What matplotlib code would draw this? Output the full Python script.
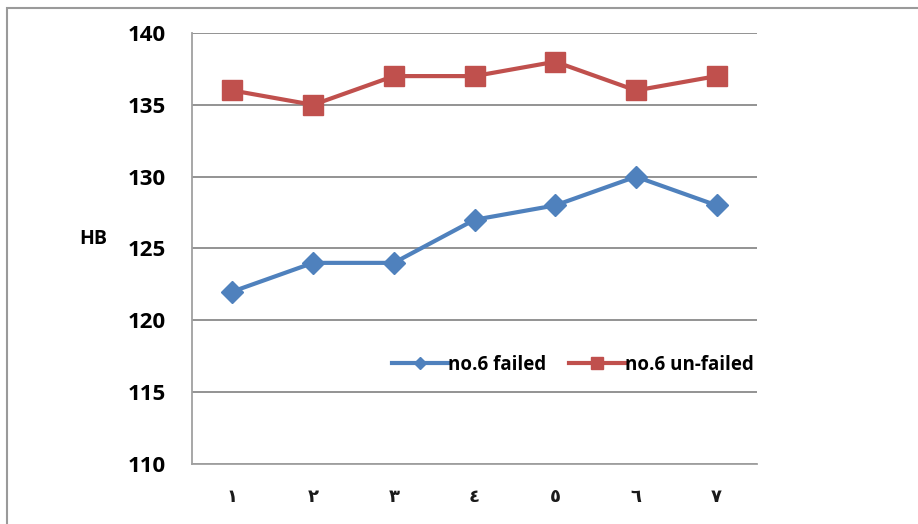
import matplotlib
matplotlib.use("Agg")
import matplotlib.pyplot as plt
from matplotlib.lines import Line2D
from matplotlib.patches import Rectangle

categories = ["١", "٢", "٣", "٤", "٥", "٦", "٧"]
failed = [122, 124, 124, 127, 128, 130, 128]
unfailed = [136, 135, 137, 137, 138, 136, 137]
yticks = [110, 115, 120, 125, 130, 135, 140]
label_failed = "no.6 failed"
label_unfailed = "no.6 un-failed"

W, H = 918, 524
fig = plt.figure(figsize=(W / 100, H / 100), dpi=100)
fig.patch.set_facecolor("white")

# outer chart frame
fig.add_artist(Rectangle((7 / W, -0.1), 1.2, 1 - 8 / H + 0.1, transform=fig.transFigure,
                         fill=False, edgecolor="#9a9a9a", linewidth=1.5))

left, right, top, bottom = 192, 757, 33, 464
ax = fig.add_axes([left / W, 1 - bottom / H, (right - left) / W, (bottom - top) / H])

x = list(range(1, len(categories) + 1))
blue = "#4F81BD"
red = "#C0504D"
ax.plot(x, failed, color=blue, linewidth=3.0, marker="D", markersize=11, zorder=3)
ax.plot(x, unfailed, color=red, linewidth=3.0, marker="s", markersize=14, zorder=3)

fam = ["Open Sans", "DejaVu Sans"]
ax.set_xlim(0.5, len(categories) + 0.5)
ax.set_ylim(110, 140)
ax.set_yticks(yticks)
ax.set_xticks(x)
ax.set_xticklabels(categories, fontfamily=["DejaVu Sans"], fontweight="bold", fontsize=13,
                   color="#1a1a1a")
ax.set_yticklabels([str(v) for v in yticks], fontfamily=fam, fontweight="bold", fontsize=16)
ax.tick_params(axis="both", length=0)
ax.tick_params(axis="x", pad=17)
ax.tick_params(axis="y", pad=19)

ax.grid(axis="y", color="#8a8a8a", linewidth=1.3)
ax.set_axisbelow(True)
for s in ["top", "right"]:
    ax.spines[s].set_visible(False)
for s in ["left", "bottom"]:
    ax.spines[s].set_color("#a0a0a0")
    ax.spines[s].set_linewidth(1.3)

ax.set_ylabel("HB", rotation=0, fontfamily=fam, fontweight="bold", fontsize=14, labelpad=0)
ax.yaxis.set_label_coords((93 - left) / (right - left), (bottom - 249) / (bottom - top))

handles = [
    Line2D([], [], color=blue, linewidth=3.0, marker="D", markersize=6),
    Line2D([], [], color=red, linewidth=3.0, marker="s", markersize=8),
]
leg = ax.legend(handles, [label_failed, label_unfailed], loc="center",
                bbox_to_anchor=((573 - left) / (right - left), (bottom - 365) / (bottom - top)),
                ncol=2, frameon=False, handlelength=3.0, handletextpad=0.0, columnspacing=1.2,
                prop={"family": fam, "weight": "bold", "size": 13.5})

fig.savefig("out.png", dpi=100, facecolor="white")
